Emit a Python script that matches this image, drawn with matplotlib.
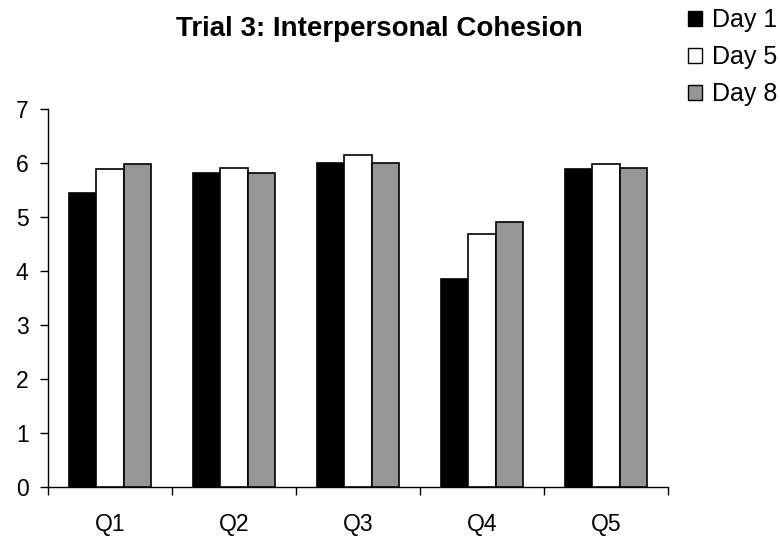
import numpy as np
import matplotlib
matplotlib.use('Agg')
import matplotlib.pyplot as plt
from matplotlib.patches import Patch

plt.rcParams['font.family'] = ['Liberation Sans', 'DejaVu Sans']

# data
questions = ['Q1', 'Q2', 'Q3', 'Q4', 'Q5']
series    = ['Day 1', 'Day 5', 'Day 8']
day1 = [5.44, 5.81, 6.00, 3.86, 5.89]
day5 = [5.88, 5.91, 6.14, 4.69, 5.99]
day8 = [5.99, 5.81, 6.00, 4.90, 5.91]
colors = ['#000000', '#ffffff', '#969696']

W, H = 780, 536
fig = plt.figure(figsize=(W / 100, H / 100), dpi=100)
# plot area in pixels: left 48, right 668, top 109 (y=7), bottom 487 (y=0)
ax = fig.add_axes([48 / W, (H - 487) / H, 620 / W, (487 - 109) / H])

x = np.arange(len(questions))
bw = 0.222
for i, (vals, col) in enumerate(zip([day1, day5, day8], colors)):
    ax.bar(x + (i - 1) * bw, vals, width=bw, color=col,
           edgecolor='black', linewidth=1.2, zorder=3)

ax.set_xlim(-0.5, len(questions) - 0.5)
ax.set_ylim(0, 7)
ax.set_yticks(range(0, 8))
ax.set_xticks(x)
ax.set_xticklabels(questions)
ax.set_xticks(np.arange(-0.5, len(questions)), minor=True)
ax.tick_params(axis='x', which='major', length=0, pad=19, labelsize=16.5)
ax.tick_params(axis='x', which='minor', length=6, width=1, direction='out')
ax.tick_params(axis='y', length=6, width=1, direction='out', pad=8, labelsize=16.5)

for s in ['top', 'right']:
    ax.spines[s].set_visible(False)
for s in ['left', 'bottom']:
    ax.spines[s].set_linewidth(1)

fig.text(379 / W, 1 - 36 / H, 'Trial 3: Interpersonal Cohesion',
         ha='center', va='baseline', fontsize=20, fontweight='bold')

handles = [Patch(facecolor=c, edgecolor='black', linewidth=1) for c in colors]
fig.legend(handles, series, loc='upper left', bbox_to_anchor=(688 / W, 1 - 8 / H),
           frameon=False, fontsize=18, handlelength=0.56, handleheight=0.56,
           handletextpad=0.4, labelspacing=0.52, borderaxespad=0, borderpad=0)

fig.savefig('out.png', dpi=100)
